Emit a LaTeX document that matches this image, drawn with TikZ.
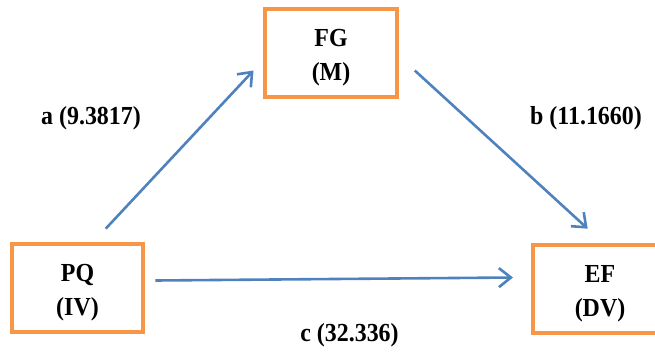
\documentclass[tikz,border=0pt]{standalone}
\usepackage{fontspec}
\setmainfont{Liberation Serif}[FakeStretch=0.92]
\usetikzlibrary{arrows.meta}
\definecolor{boxorange}{HTML}{F79646}
\definecolor{arrowblue}{HTML}{4F81BD}
\begin{document}
\begin{tikzpicture}[x=1pt,y=-1pt,
  box/.style={draw=boxorange,line width=3.2pt,fill=white,minimum width=#1,minimum height=88pt,inner sep=0pt},
  box/.default=131pt,
  boxtext/.style={align=center,font=\bfseries\fontsize{26}{34}\selectfont,inner sep=0pt},
  lab/.style={font=\bfseries\fontsize{26}{30}\selectfont,inner sep=0pt},
  arr/.style={draw=arrowblue,line width=2.6pt,-{Straight Barb[length=12pt,width=19pt,line width=2.6pt]}}]
\useasboundingbox (0,0) rectangle (655,356);
\clip (0,0) rectangle (655,356);
\node[box=132pt] (fg) at (331,53) {};
\node[boxtext] (fgt) at ([yshift=-5pt]fg.center) {FG\\(M)};
\node[box=131pt] (pq) at (77.5,288) {};
\node[boxtext] (pqt) at ([yshift=-5pt]pq.center) {PQ\\(IV)};
\node[box=134pt] (ef) at (600,289) {};
\node[boxtext] (eft) at ([yshift=-5pt]ef.center) {EF\\(DV)};
\coordinate (a1) at (105.7,228.7);
\coordinate (a2) at (253.5,70.5);
\coordinate (b1) at (414.8,70.5);
\coordinate (b2) at (587.7,228.7);
\coordinate (c1) at (155.4,280.5);
\coordinate (c2) at (513,277.5);
\draw[arr] (a1) -- (a2);
\draw[arr] (b1) -- (b2);
\draw[arr] (c1) -- (c2);
\node[lab] (la) at (91,118) {a (9.3817)};
\node[lab] (lb) at (586,118) {b (11.1660)};
\node[lab] (lc) at (349.5,335) {c (32.336)};
\end{tikzpicture}
\end{document}
